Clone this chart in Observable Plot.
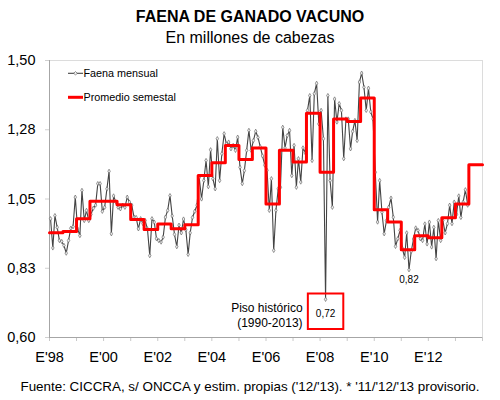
<!DOCTYPE html>
<html>
<head>
<meta charset="utf-8">
<script src="https://cdn.jsdelivr.net/npm/d3@7"></script>
<script src="https://cdn.jsdelivr.net/npm/@observablehq/plot@0.6"></script>
<style>
  html, body { margin: 0; padding: 0; background: #fff; }
  #wrap { position: relative; width: 500px; height: 400px; font-family: "Liberation Sans", Arial, sans-serif; color: #000; overflow: hidden; }
  .abs { position: absolute; white-space: nowrap; }
  #title { top: 7px; left: 0; width: 500px; text-align: center; font-weight: bold; font-size: 16px; line-height: 20px; }
  #subtitle { top: 28px; left: 0; width: 500px; text-align: center; font-size: 16px; line-height: 20px; }
  #chart { top: 50px; left: 0; }
  #caption { top: 378px; left: 0; width: 500px; text-align: center; font-size: 13.4px; line-height: 18px; }
  .leg { font-size: 10.8px; line-height: 14px; }
</style>
</head>
<body>
<div id="wrap">
  <div id="title" class="abs"></div>
  <div id="subtitle" class="abs"></div>
  <div id="chart" class="abs"></div>
  <div id="legend"></div>
  <div id="caption" class="abs"></div>
</div>
<script>
// ---------- DATA ----------
const titleText = "FAENA DE GANADO VACUNO";
const subtitleText = "En millones de cabezas";
const captionText = "Fuente: CICCRA, s/ ONCCA y estim. propias ('12/'13). * '11/'12/'13 provisorio.";
const seriesNames = ["Faena mensual", "Promedio semestal"];
const startYear = 1998;
const endYear = 2014;

// Monthly slaughter (millions of head), Jan 1998 .. Jun 2013
const monthlyValues = [
  0.986, 0.891, 0.996, 0.958, 0.915, 0.912, 0.899, 0.874, 0.915, 0.955, 0.960, 1.056, // 1998
  0.953, 0.931, 1.078, 0.980, 1.013, 0.980, 1.000, 1.020, 1.030, 1.100, 1.100, 1.010, // 1999
  1.023, 1.083, 1.140, 0.937, 1.060, 1.040, 1.023, 1.018, 1.030, 1.023, 1.056, 1.040, // 2000
  1.030, 0.991, 0.990, 0.953, 0.986, 0.970, 0.980, 0.953, 0.866, 0.986, 0.975, 0.921, // 2001
  0.915, 0.910, 0.926, 0.991, 1.013, 1.061, 0.995, 0.935, 0.895, 0.965, 0.940, 0.985, // 2002
  0.950, 0.870, 0.940, 0.990, 1.010, 1.030, 1.120, 1.050, 1.110, 1.175, 1.090, 1.210, // 2003
  1.116, 1.083, 1.246, 1.110, 1.197, 1.262, 1.229, 1.235, 1.213, 1.224, 1.208, 1.251, // 2004
  1.153, 1.100, 1.142, 1.208, 1.273, 1.208, 1.240, 1.270, 1.250, 1.220, 1.190, 1.160, // 2005
  1.143, 1.013, 1.116, 0.883, 1.013, 1.083, 1.088, 1.283, 1.216, 1.256, 1.273, 1.126, // 2006
  1.224, 1.088, 1.181, 1.105, 1.216, 1.200, 1.338, 1.386, 1.175, 1.392, 1.426, 1.294, // 2007
  1.338, 1.246, 0.724, 1.386, 1.110, 1.023, 1.375, 1.300, 1.360, 1.338, 1.181, 1.310, // 2008
  1.310, 1.213, 1.270, 1.305, 1.240, 1.430, 1.459, 1.413, 1.338, 1.410, 1.333, 1.310, // 2009
  1.137, 0.975, 1.110, 1.007, 0.937, 0.980, 1.023, 1.053, 0.991, 0.896, 0.921, 0.948, // 2010
  0.890, 0.860, 0.940, 0.820, 0.880, 0.920, 0.956, 0.948, 0.921, 0.915, 0.969, 0.904, // 2011
  0.975, 0.894, 0.958, 0.856, 0.980, 0.915, 0.980, 0.940, 0.970, 1.030, 0.970, 1.040, // 2012
  1.000, 1.060, 0.990, 1.040, 1.080, 1.030                                              // 2013 (1st half)
];

// Semester averages, 1998 S1 .. 2013 S2
const semesterValues = [
  0.940, 0.944, 0.986, 1.043, 1.043, 1.031, 0.983, 0.951,
  0.969, 0.953, 0.966, 1.126, 1.168, 1.224, 1.178, 1.216,
  1.034, 1.208, 1.170, 1.329, 1.137, 1.310, 1.302, 1.378,
  1.015, 0.975, 0.885, 0.931, 0.924, 0.989, 1.034, 1.161
];

const yTicks = [0.6, 0.825, 1.05, 1.275, 1.5];
const yTickLabels = ["0,60", "0,83", "1,05", "1,28", "1,50"];
const xLabelYears = [1998, 2000, 2002, 2004, 2006, 2008, 2010, 2012];
const xTickLabels = ["E'98", "E'00", "E'02", "E'04", "E'06", "E'08", "E'10", "E'12"];
const floorNote = "Piso histórico\n(1990-2013)";

// ---------- BUILD ----------
const fmt = v => v.toFixed(2).replace(".", ",");
const monthly = monthlyValues.map((v, i) => ({
  date: new Date(Date.UTC(startYear + Math.floor(i / 12), i % 12, 15)),
  value: v, i
}));
const semester = semesterValues.map((v, i) => ({
  date: new Date(Date.UTC(startYear + Math.floor(i / 2), (i % 2) * 6, 1)),
  value: v
}));
semester.push({date: new Date(Date.UTC(endYear, 0, 1)), value: semesterValues[semesterValues.length - 1]});

const globalMin = monthly.reduce((a, b) => (b.value < a.value ? b : a));
const recent = monthly.filter(d => d.date.getUTCFullYear() >= 2010);
const recentMin = recent.reduce((a, b) => (b.value < a.value ? b : a));

const yearTicks = d3.range(startYear, endYear + 1).map(y => new Date(Date.UTC(y, 0, 1)));
const xLabelFor = d => {
  const k = xLabelYears.indexOf(d.getUTCFullYear());
  return k >= 0 ? xTickLabels[k] : "";
};

const FONT = "Liberation Sans, Arial, sans-serif";

const plot = Plot.plot({
  width: 500,
  height: 320,
  marginTop: 10,
  marginBottom: 33,
  marginLeft: 49,
  marginRight: 18,
  style: {fontFamily: FONT, background: "white", color: "#000", overflow: "visible"},
  x: {type: "utc", domain: [yearTicks[0], yearTicks[yearTicks.length - 1]]},
  y: {domain: [yTicks[0], yTicks[yTicks.length - 1]]},
  marks: [
    Plot.frame({stroke: "#dcdcdc"}),
    Plot.axisY({ticks: yTicks, tickFormat: d => yTickLabels[yTicks.indexOf(d)], tickSize: 4, tickPadding: 10,
                stroke: "#d0d0d0", fontSize: 14.5, label: null}),
    Plot.axisX({ticks: yearTicks, tickFormat: xLabelFor, tickSize: 4, tickPadding: 10,
                stroke: "#c8c8c8", fontSize: 14.5, label: null}),
    Plot.ruleX([yearTicks[0]], {stroke: "#a6a6a6"}),
    Plot.ruleY([yTicks[0]], {stroke: "#a6a6a6"}),
    Plot.line(monthly, {x: "date", y: "value", stroke: "#444", strokeWidth: 1.1}),
    Plot.dot(monthly, {x: "date", y: "value", symbol: "diamond", r: 1.3, fill: "#f0f0f0", stroke: "#555", strokeWidth: 0.6}),
    Plot.line(semester, {x: "date", y: "value", curve: "step-after", stroke: "#ff0000", strokeWidth: 3}),
    // annotation: historic floor
    Plot.dot([globalMin], {x: "date", y: "value", symbol: "square", r: 20, dy: 12, fill: "none", stroke: "#ff0000", strokeWidth: 2}),
    Plot.text([globalMin], {x: "date", y: "value", text: d => fmt(d.value), dy: 14, fontSize: 10, fill: "#000"}),
    Plot.text([globalMin], {x: "date", y: "value", text: () => floorNote, dx: -23, dy: 15, textAnchor: "end", lineHeight: 1.3, fontSize: 12, fill: "#000"}),
    Plot.text([recentMin], {x: "date", y: "value", text: d => fmt(d.value), dy: 10, fontSize: 10, fill: "#000"})
  ]
});

document.getElementById("chart").appendChild(plot);
document.getElementById("title").textContent = titleText;
document.getElementById("subtitle").textContent = subtitleText;
document.getElementById("caption").textContent = captionText;

// legend (inside plot area, top-left)
const legend = document.getElementById("legend");
legend.innerHTML = `
  <svg class="abs" style="left:67px;top:66px" width="18" height="40">
    <line x1="1" x2="16" y1="7.3" y2="7.3" stroke="#444" stroke-width="1.1"/>
    <path d="M8.5,5.5 L10.3,7.3 L8.5,9.1 L6.7,7.3 Z" fill="#f0f0f0" stroke="#555" stroke-width="0.6"/>
    <line x1="1" x2="16" y1="31.3" y2="31.3" stroke="#ff0000" stroke-width="3"/>
  </svg>
  <div class="abs leg" style="left:83.5px;top:66px">${seriesNames[0]}</div>
  <div class="abs leg" style="left:83.5px;top:90px">${seriesNames[1]}</div>
`;
</script>
</body>
</html>
